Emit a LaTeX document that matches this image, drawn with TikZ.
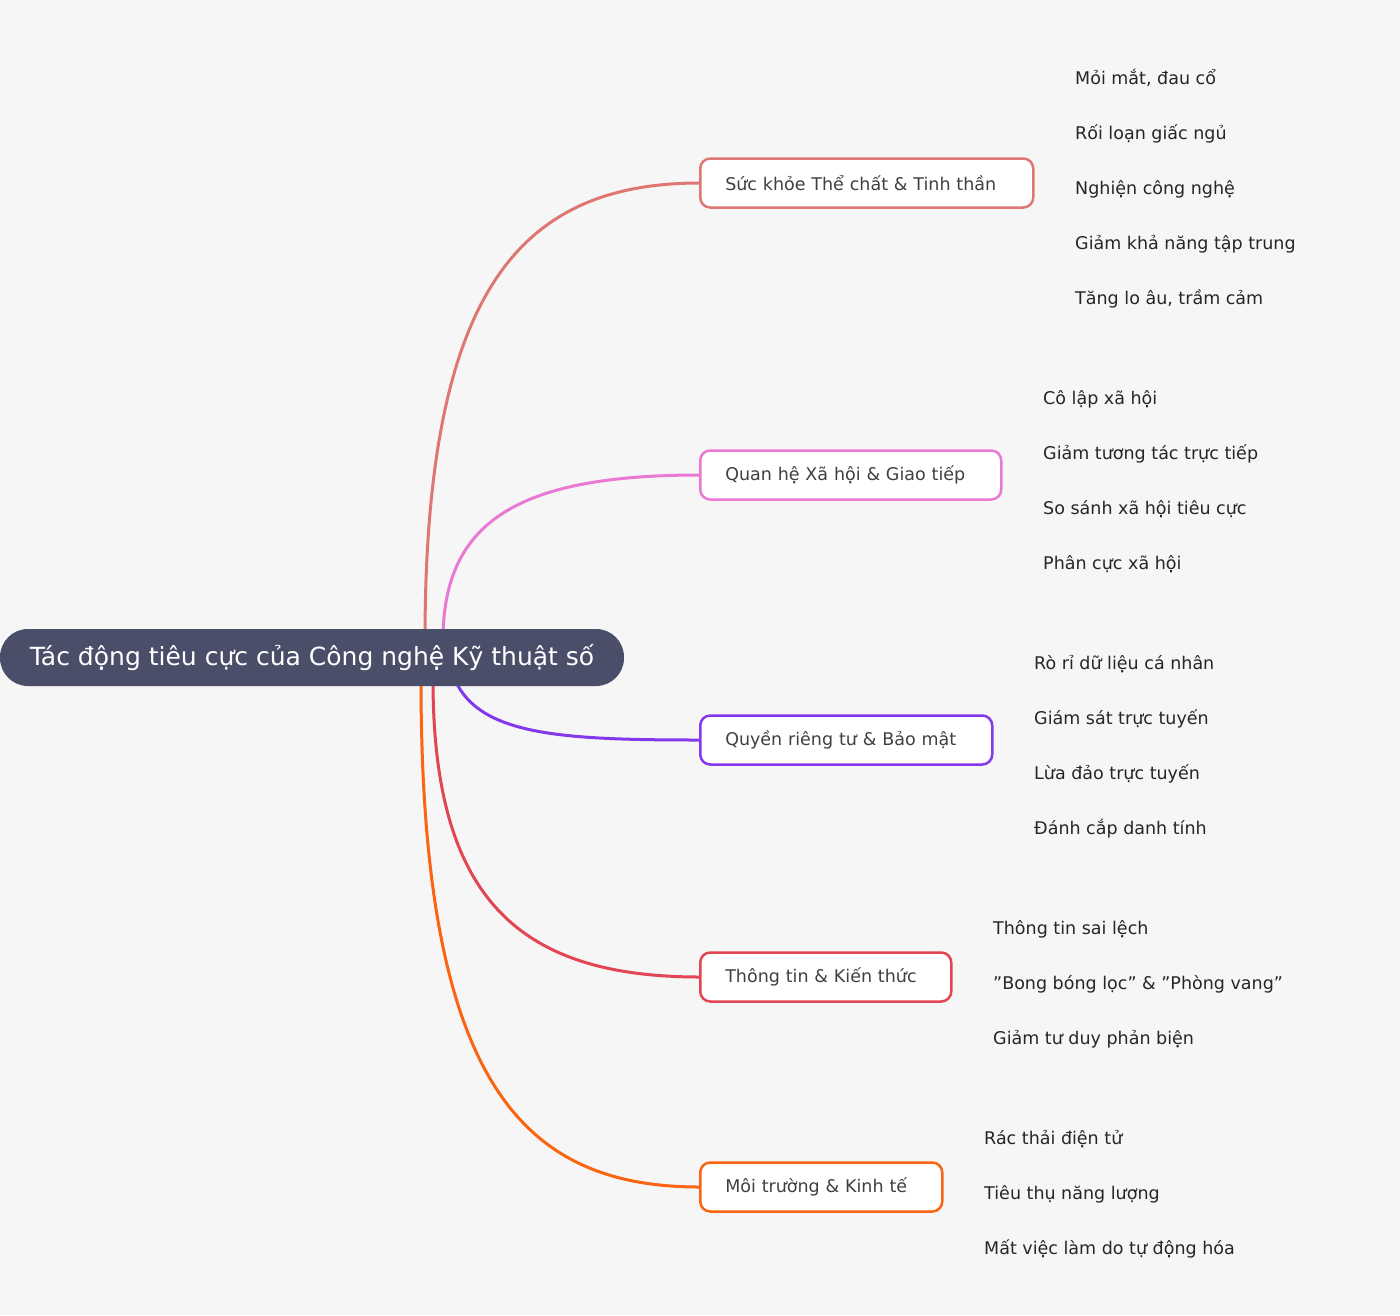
\documentclass[tikz,border=0pt]{standalone}
\usepackage{fontspec}
\setmainfont{DejaVu Sans}
\usetikzlibrary{backgrounds}
\definecolor{bgc}{HTML}{F6F6F6}
\definecolor{rootc}{HTML}{4A4E69}
\definecolor{cA}{HTML}{DE7772}
\definecolor{cB}{HTML}{EA79D3}
\definecolor{cC}{HTML}{8338EC}
\definecolor{cD}{HTML}{E34553}
\definecolor{cE}{HTML}{FB6410}
\tikzset{
  rootbox/.style={fill=rootc,rounded corners=28pt,minimum height=57pt,text=white,font=\fontsize{25}{30}\selectfont,inner xsep=0pt},
  topic/.style={draw=#1,line width=2.5pt,fill=white,rounded corners=10pt,minimum height=49pt,anchor=west,text=black!75,font=\fontsize{17.5}{21}\selectfont,inner xsep=0pt,align=left},
  leaftext/.style={anchor=base west,inner sep=0pt,text=black!85,font=\fontsize{17.5}{21}\selectfont},
}
\begin{document}
\begin{tikzpicture}[x=1pt,y=-1pt]
\fill[bgc] (0,0) rectangle (1400,1315);
\useasboundingbox (0,0) rectangle (1400,1315);

% main branches
\draw[cA,line width=3pt] (425,640) .. controls (425,290) and (520,183) .. (700,183);
\draw[cB,line width=3pt] (443,640) .. controls (443,520) and (520,475) .. (700,475);
\draw[cC,line width=3pt] (455,680) .. controls (480,735) and (560,740) .. (700,740);
\draw[cD,line width=3pt] (433,680) .. controls (433,900) and (520,977) .. (700,977);
\draw[cE,line width=3pt] (421,680) .. controls (421,1080) and (520,1187) .. (700,1187);

\node[rootbox,minimum width=624pt] (root) at (312,657.5) {Tác động tiêu cực của Công nghệ Kỹ thuật số};

\node[topic=cA,text width=333pt] (health) at (699,183) {\hspace*{25pt}Sức khỏe Thể chất \& Tinh thần};
\node[topic=cB,text width=301pt] (social) at (699,475) {\hspace*{25pt}Quan hệ Xã hội \& Giao tiếp};
\node[topic=cC,text width=292pt] (privacy) at (699,740) {\hspace*{25pt}Quyền riêng tư \& Bảo mật};
\node[topic=cD,text width=251pt] (info) at (699,977) {\hspace*{25pt}Thông tin \& Kiến thức};
\node[topic=cE,text width=242pt] (env) at (699,1187) {\hspace*{25pt}Môi trường \& Kinh tế};

% leaves: colour/right edge/centre/line y/line start/line end/text
\foreach \c/\r/\m/\ly/\sx/\ex/\t in {
  cA/1032/183/100/1060/1222/{Mỏi mắt, đau cổ},
  cA/1032/183/155/1060/1233/{Rối loạn giấc ngủ},
  cA/1032/183/210/1060/1241/{Nghiện công nghệ},
  cA/1032/183/265/1060/1304/{Giảm khả năng tập trung},
  cA/1032/183/320/1060/1270/{Tăng lo âu, trầm cảm},
  cB/1000/475/420/1028/1162/{Cô lập xã hội},
  cB/1000/475/475/1028/1266/{Giảm tương tác trực tiếp},
  cB/1000/475/530/1028/1254/{So sánh xã hội tiêu cực},
  cB/1000/475/585/1028/1187/{Phân cực xã hội},
  cC/991/740/685/1019/1221/{Rò rỉ dữ liệu cá nhân},
  cC/991/740/740/1019/1216/{Giám sát trực tuyến},
  cC/991/740/795/1019/1207/{Lừa đảo trực tuyến},
  cC/991/740/850/1019/1213/{Đánh cắp danh tính},
  cD/950/977/950/978/1156/{Thông tin sai lệch},
  cD/950/977/1005/978/1290/{"Bong bóng lọc" \& "Phòng vang"},
  cD/950/977/1060/978/1203/{Giảm tư duy phản biện},
  cE/941/1187/1160/969/1128/{Rác thải điện tử},
  cE/941/1187/1215/969/1167/{Tiêu thụ năng lượng},
  cE/941/1187/1270/969/1244/{Mất việc làm do tự động hóa}}{
  \pgfmathsetmacro\sy{\m+max(-20,min(20,0.35*(\ly-\m)))}
  \pgfmathsetmacro\bx{\r-14*abs(\sy-\m)/20-4}
  \coordinate (s) at (\bx,\sy);
  \coordinate (e) at (\sx,\ly);
  \begin{pgfonlayer}{background}
  \draw[\c,line width=1.3pt] (s) .. controls (\bx+12,\ly) and (\bx+12,\ly) .. (e) -- (\ex,\ly);
  \end{pgfonlayer}
  \node[leaftext] (leaf) at (\sx+15,\ly-16) {\t};
}
\end{tikzpicture}
\end{document}
